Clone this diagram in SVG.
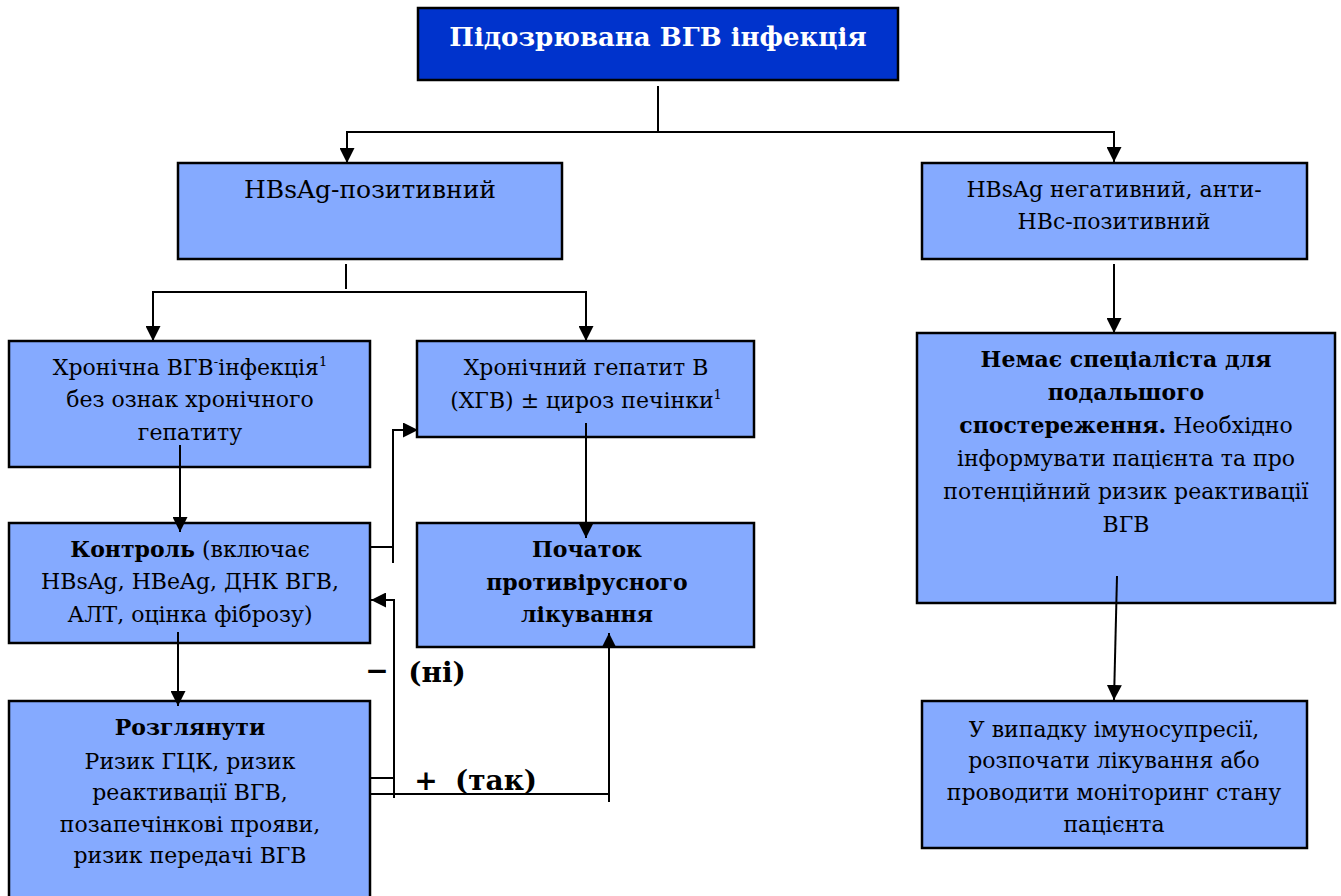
<svg xmlns="http://www.w3.org/2000/svg" width="1341" height="896" viewBox="0 0 1341 896">
<defs>
<style>
.box{fill:#85AAFF;stroke:#000;stroke-width:2.5}
.top{fill:#0033CC;stroke:#000;stroke-width:2.5}
.t{font-family:"DejaVu Serif","Liberation Serif",serif;font-size:22px;fill:#000;text-anchor:middle}
.b{font-weight:bold}
.w{fill:#fff}
.ln{fill:none;stroke:#000;stroke-width:2}
.ar{fill:none;stroke:#000;stroke-width:2;marker-end:url(#ah)}
.sup{font-size:13px}
</style>
<marker id="ah" markerUnits="userSpaceOnUse" markerWidth="15" markerHeight="15" refX="15" refY="7.5" orient="auto">
<path d="M0,0 L15,7.5 L0,15 z" fill="#000"/>
</marker>
</defs>
<rect width="1341" height="896" fill="#fff"/>

<g id="n-top">
<rect class="top" x="418" y="8" width="480" height="72"/>
<text class="t b w" x="658" y="46" style="font-size:26px">Підозрювана ВГВ інфекція</text>
</g>

<g id="n-hbsag-pos">
<rect class="box" x="178" y="163" width="384" height="96"/>
<text class="t" x="370" y="198" style="font-size:25px">HBsAg-позитивний</text>
</g>

<g id="n-hbsag-neg">
<rect class="box" x="922" y="163" width="385" height="96"/>
<text class="t" x="1114" y="197">HBsAg негативний, анти-</text>
<text class="t" x="1114" y="229">HBc-позитивний</text>
</g>

<g id="n-chronic-inf">
<rect class="box" x="9" y="341" width="361" height="126"/>
<text class="t" x="190" y="375">Хронічна ВГВ<tspan class="sup" dy="-9">-</tspan><tspan dy="9">інфекція</tspan><tspan class="sup" dy="-9">1</tspan></text>
<text class="t" x="190" y="407">без ознак хронічного</text>
<text class="t" x="190" y="440">гепатиту</text>
</g>

<g id="n-chronic-hep">
<rect class="box" x="417" y="341" width="337" height="96"/>
<text class="t" x="586" y="375">Хронічний гепатит В</text>
<text class="t" x="586" y="408">(ХГВ) ± цироз печінки<tspan class="sup" dy="-9">1</tspan></text>
</g>

<g id="n-control">
<rect class="box" x="9" y="523" width="361" height="120"/>
<text class="t" x="190" y="557"><tspan class="b">Контроль</tspan> (включає</text>
<text class="t" x="190" y="589">HBsAg, HBeAg, ДНК ВГВ,</text>
<text class="t" x="190" y="622">АЛТ, оцінка фіброзу)</text>
</g>

<g id="n-start">
<rect class="box" x="417" y="523" width="337" height="124"/>
<text class="t b" x="587" y="557">Початок</text>
<text class="t b" x="587" y="590">противірусного</text>
<text class="t b" x="587" y="622">лікування</text>
</g>

<g id="n-consider">
<rect class="box" x="9" y="701" width="361" height="200"/>
<text class="t b" x="190" y="735">Розглянути</text>
<text class="t" x="190" y="769">Ризик ГЦК, ризик</text>
<text class="t" x="190" y="800">реактивації ВГВ,</text>
<text class="t" x="190" y="832">позапечінкові прояви,</text>
<text class="t" x="190" y="863">ризик передачі ВГВ</text>
</g>

<g id="n-nospec">
<rect class="box" x="917" y="333" width="418" height="270"/>
<text class="t b" x="1126" y="367">Немає спеціаліста для</text>
<text class="t b" x="1126" y="400">подальшого</text>
<text class="t" x="1126" y="433"><tspan class="b">спостереження.</tspan>  Необхідно</text>
<text class="t" x="1126" y="466">інформувати пацієнта та про</text>
<text class="t" x="1126" y="499">потенційний ризик реактивації</text>
<text class="t" x="1126" y="532">ВГВ</text>
</g>

<g id="n-immuno">
<rect class="box" x="922" y="701" width="385" height="147"/>
<text class="t" x="1114" y="737">У випадку імуносупресії,</text>
<text class="t" x="1114" y="768">розпочати лікування або</text>
<text class="t" x="1114" y="800">проводити моніторинг стану</text>
<text class="t" x="1114" y="832">пацієнта</text>
</g>

<g id="connectors">
<path class="ln" d="M658 86 V132"/>
<path class="ar" d="M658 132 H347 V163"/>
<path class="ar" d="M658 132 H1114 V162"/>
<path class="ln" d="M346 264 V289"/>
<path class="ar" d="M346 292 H153 V341"/>
<path class="ar" d="M346 292 H586 V341"/>
<path class="ar" d="M1114 264 V333"/>
<path class="ar" d="M1117 576 L1114 700"/>
<path class="ar" d="M180 445 V532"/>
<path class="ar" d="M586 423 V538"/>
<path class="ar" d="M178 632 V706"/>
<path class="ln" d="M370 547 H393"/>
<path class="ar" d="M393 563 V430 H418"/>
<path class="ar" d="M394 798 V600 H371"/>
<path class="ln" d="M370 778 H394"/>
<path class="ln" d="M370 794 H609"/>
<path class="ar" d="M609 802 V633"/>
<text class="t b" x="377" y="680" style="font-size:28px">−</text>
<text class="t b" x="437" y="682" style="font-size:28px">(ні)</text>
<text class="t b" x="426" y="790" style="font-size:28px">+</text>
<text class="t b" x="496" y="790" style="font-size:28px">(так)</text>
</g>
</svg>
